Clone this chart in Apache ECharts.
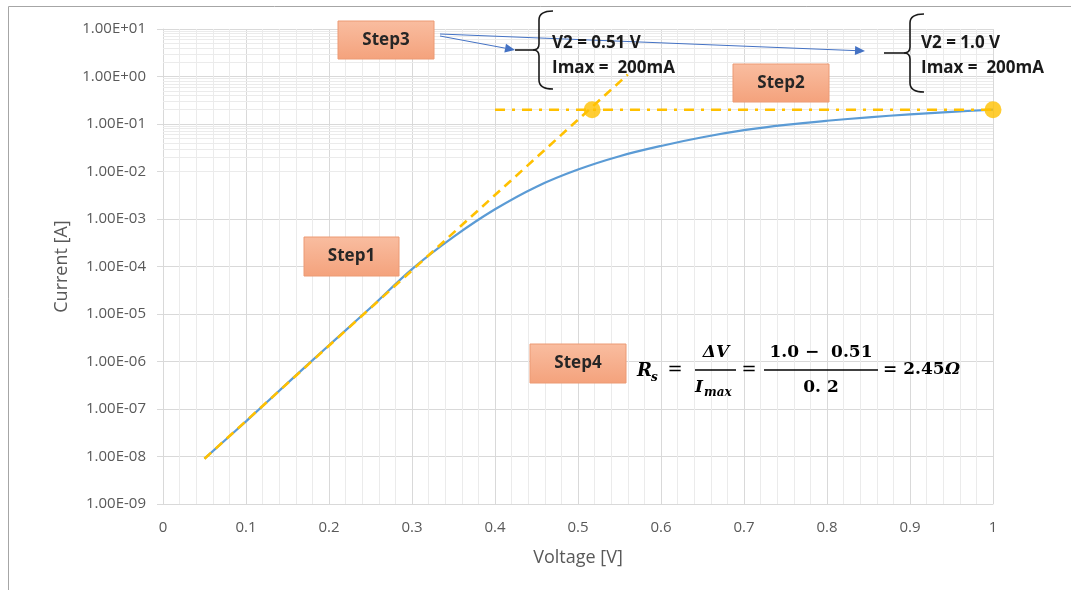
<!DOCTYPE html>
<html>
<head>
<meta charset="utf-8">
<script src="https://cdn.jsdelivr.net/npm/echarts@6/dist/echarts.min.js"></script>
<style>
  html, body { margin: 0; padding: 0; background: #fff; }
  #chart { width: 1071px; height: 590px; }
</style>
</head>
<body>
<div id="chart"></div>
<script>
// measured I-V curve
const voltage = [0.05, 0.1, 0.15, 0.2, 0.25, 0.3, 0.35, 0.4, 0.45, 0.5, 0.55, 0.6, 0.65, 0.7, 0.75, 0.8, 0.85, 0.9, 0.95, 1.0];
const current = [9e-9, 5.5e-8, 3.5e-7, 2.2e-6, 1.35e-5, 8.8e-5, 4.2e-4, 1.6e-3, 4.8e-3, 1.1e-2, 2.1e-2, 3.45e-2, 5.25e-2, 7.4e-2, 9.6e-2, 0.117, 0.138, 0.16, 0.18, 0.2];
// ideal diode extrapolation (Step1)
const idealV = [0.05, 0.56];
const idealI = [9e-9, 1.1];
// Imax level (Step2)
const levelV = [0.4, 1.0];
const levelI = [0.2, 0.2];
// V2 points
const pointV = [0.517, 1.0];
const pointI = [0.2, 0.2];
// y axis decades
const decades = [-9, -8, -7, -6, -5, -4, -3, -2, -1, 0];

const zip = (xs, ys) => xs.map((x, i) => [x, ys[i]]);

// minor log grid (2..9 in every decade)
const minorLines = [];
decades.forEach(d => {
  for (let k = 2; k <= 9; k++) minorLines.push({ yAxis: k * Math.pow(10, d) });
});

const fmtExp = v => {
  const e = Math.round(Math.log10(v));
  const s = e < 0 ? '-' : '+';
  const a = Math.abs(e);
  return '1.00E' + s + (a < 10 ? '0' + a : a);
};

const labelFont = { fontFamily: 'Open Sans', fontSize: 15, color: '#595959' };
const orange = '#ffc000';
const TOP = 100;

// annotation helpers
function stepBox (x, y, w, h, text) {
  return [
    { type: 'rect', z: TOP, shape: { x: x, y: y, width: w, height: h },
      style: { fill: new echarts.graphic.LinearGradient(0, 0, 0, 1, [
        { offset: 0, color: '#f9bda0' }, { offset: 1, color: '#f4a27c' }]),
        stroke: '#ec9a74', lineWidth: 1 } },
    { type: 'text', z: TOP + 1, x: x + w / 2, y: y + h / 2,
      style: { text: text, fontFamily: 'Open Sans', fontWeight: 'bold', fontSize: 17,
        fill: '#262626', align: 'center', verticalAlign: 'middle' } }
  ];
}

function brace (x, top, bottom, stubX) {
  const mid = (top + bottom) / 2;
  const st = { stroke: '#1a1a1a', lineWidth: 1.6, fill: null };
  const curve = (x1, y1, cx, cy, x2, y2) => ({ type: 'bezierCurve', z: TOP,
    shape: { x1: x1, y1: y1, cpx1: cx, cpy1: cy, x2: x2, y2: y2 }, style: st });
  const seg = (x1, y1, x2, y2) => ({ type: 'line', z: TOP, shape: { x1: x1, y1: y1, x2: x2, y2: y2 }, style: st });
  return [
    curve(x + 14, top, x, top, x, top + 9),
    seg(x, top + 9, x, mid - 6),
    curve(x, mid - 6, x, mid, x - 6, mid),
    curve(x - 6, mid, x, mid, x, mid + 6),
    seg(x, mid + 6, x, bottom - 9),
    curve(x, bottom - 9, x, bottom, x + 14, bottom),
    seg(stubX, mid, x - 6, mid)
  ];
}

function arrow (x1, y1, x2, y2) {
  const len = Math.hypot(x2 - x1, y2 - y1);
  const ux = (x2 - x1) / len, uy = (y2 - y1) / len;
  const bx = x2 - ux * 10, by = y2 - uy * 10;
  return [
    { type: 'line', z: TOP, shape: { x1: x1, y1: y1, x2: bx, y2: by }, style: { stroke: '#4472c4', lineWidth: 1 } },
    { type: 'polygon', z: TOP, shape: { points: [[x2, y2], [bx - uy * 4.5, by + ux * 4.5], [bx + uy * 4.5, by - ux * 4.5]] },
      style: { fill: '#4472c4' } }
  ];
}

function txt (x, y, text, opt) {
  return { type: 'text', x: x, y: y, z: TOP,
    style: Object.assign({ text: text, fill: '#000', verticalAlign: 'middle',
      fontFamily: 'DejaVu Serif', fontWeight: 'bold', fontSize: 17 }, opt || {}) };
}

const boxFont = { fontFamily: 'Open Sans', fontSize: 17, fill: '#1a1a1a' };

const chart = echarts.init(document.getElementById('chart'));

const option = {
  animation: false,
  backgroundColor: '#fff',
  grid: { left: 163, right: 78, top: 29, bottom: 86 },
  xAxis: {
    type: 'value', min: 0, max: 1, interval: 0.1,
    name: 'Voltage [V]', nameLocation: 'middle', nameGap: 45,
    nameTextStyle: { fontFamily: 'Open Sans', fontSize: 18, color: '#595959' },
    axisLine: { lineStyle: { color: '#d9d9d9' } },
    axisTick: { show: false },
    axisLabel: Object.assign({ margin: 16, formatter: v => String(+v.toFixed(1)) }, labelFont),
    splitLine: { lineStyle: { color: '#d9d9d9' } },
    minorTick: { show: false, splitNumber: 5 },
    minorSplitLine: { show: true, lineStyle: { color: '#ebebeb' } }
  },
  yAxis: {
    type: 'log', logBase: 10, min: 1e-9, max: 10, splitNumber: 10,
    name: 'Current [A]', nameLocation: 'middle', nameGap: 92,
    nameTextStyle: { fontFamily: 'Open Sans', fontSize: 18, color: '#595959' },
    axisLine: { show: true, lineStyle: { color: '#d9d9d9' } },
    axisTick: { show: true, length: 6, lineStyle: { color: '#d9d9d9' } },
    axisLabel: Object.assign({ margin: 17, formatter: fmtExp }, labelFont),
    splitLine: { lineStyle: { color: '#d9d9d9' } }
  },
  series: [
    {
      name: 'minor grid', type: 'line', data: [], silent: true, z: 1,
      markLine: {
        silent: true, symbol: 'none', z: 1, animation: false,
        label: { show: false }, emphasis: { disabled: true },
        lineStyle: { color: '#ebebeb', type: 'solid', width: 1 },
        data: minorLines
      }
    },
    {
      name: 'measured', type: 'line', data: zip(voltage, current), smooth: 0.35,
      showSymbol: false, z: 3,
      lineStyle: { color: '#5b9bd5', width: 2.2 }
    },
    {
      name: 'ideal', type: 'line', data: zip(idealV, idealI), showSymbol: false, z: 4,
      lineStyle: { color: orange, width: 2.6, type: [9, 6] }
    },
    {
      name: 'Imax', type: 'line', data: zip(levelV, levelI), showSymbol: false, z: 4,
      lineStyle: { color: orange, width: 2.6, type: [10, 7, 3, 7] }
    },
    {
      name: 'V2', type: 'scatter', data: zip(pointV, pointI), symbolSize: 17, z: 5,
      itemStyle: { color: orange }
    }
  ],
  graphic: [].concat(
    [{ type: 'rect', z: 0, shape: { x: 8.5, y: 6.5, width: 1200, height: 700 },
      style: { fill: null, stroke: '#a6a6a6', lineWidth: 1 } }],
    stepBox(338, 21, 96, 38, 'Step3'),
    stepBox(733, 64, 96, 38, 'Step2'),
    stepBox(304, 237, 95, 39, 'Step1'),
    stepBox(530, 344, 96, 39, 'Step4'),
    arrow(440, 36, 515, 50),
    arrow(440, 34, 865, 51),
    brace(539, 11, 89, 515),
    brace(910, 14, 92, 884),
    [
      txt(552, 43, 'V2 = 0.51 V', boxFont),
      txt(552, 68, 'Imax =  200mA', boxFont),
      txt(921, 43, 'V2 = 1.0 V', boxFont),
      txt(921, 68, 'Imax =  200mA', boxFont),
      // Rs formula
      txt(637, 371, 'R', { fontStyle: 'italic', fontSize: 18 }),
      txt(651, 378, 's', { fontStyle: 'italic', fontSize: 12 }),
      txt(675, 370, '=', { align: 'center', fontWeight: 'normal', fontSize: 18 }),
      txt(716, 353, 'ΔV', { align: 'center', fontStyle: 'italic' }),
      { type: 'line', z: TOP, shape: { x1: 695, y1: 370, x2: 736, y2: 370 }, style: { stroke: '#000', lineWidth: 1.3 } },
      txt(695, 388, 'I', { fontStyle: 'italic' }),
      txt(704, 393, 'max', { fontStyle: 'italic', fontSize: 12 }),
      txt(749, 370, '=', { align: 'center', fontWeight: 'normal', fontSize: 18 }),
      txt(821, 353, '1.0 −  0.51', { align: 'center' }),
      { type: 'line', z: TOP, shape: { x1: 764, y1: 370, x2: 878, y2: 370 }, style: { stroke: '#000', lineWidth: 1.3 } },
      txt(821, 388, '0. 2', { align: 'center' }),
      txt(883, 370, '= 2.45', {}),
      txt(945, 370, 'Ω', { fontStyle: 'italic' })
    ]
  )
};

chart.setOption(option);
</script>
</body>
</html>
